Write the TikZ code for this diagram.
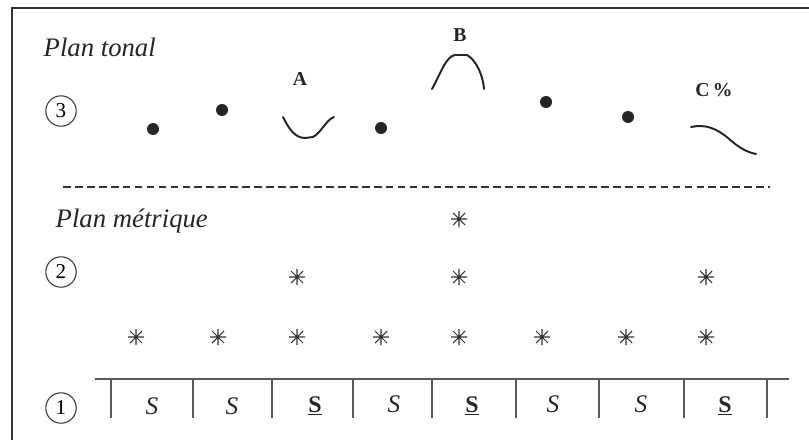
\documentclass[tikz,border=0pt]{standalone}
\usepackage{fontspec}
\setmainfont{Liberation Serif}

\begin{document}
\begin{tikzpicture}[x=0.025cm,y=-0.025cm,line width=1pt,
  plan/.style={anchor=west,inner sep=0pt,font=\fontsize{19}{22}\selectfont\itshape,text=black!85},
  level/.style={circle,draw=black!75,line width=0.8pt,minimum size=0.76cm,inner sep=0pt,font=\fontsize{15}{17}\selectfont},
  tone/.style={circle,fill=black!85,minimum size=0.3cm,inner sep=0pt},
  accentlbl/.style={font=\fontsize{14}{16}\selectfont\bfseries,text=black!85},
  syl/.style={font=\fontsize{18}{20}\selectfont\itshape,text=black!85},
  stress/.style={font=\fontsize{17}{20}\selectfont\bfseries,text=black!85},
  contour/.style={line width=1.4pt,black!85,line cap=round},
  beat/.pic={\draw[line width=0.75pt,black!80] (-8,0)--(8,0) (0,-8)--(0,8) (-6,-6)--(6,6) (-6,6)--(6,-6);}]
  \useasboundingbox (0,0) rectangle (809,440);
  % cadre
  \draw[line width=1.6pt,black!80] (12,440)--(12,8)--(809,8);
  % ============ plan tonal ============
  \node[plan] (tonal) at (43,47) {Plan tonal};
  \node[level] (n3) at (61,111) {3};
  \node[tone] (t1) at (153,129) {};
  \node[tone] (t2) at (222,110) {};
  \node[tone] (t4) at (381,128) {};
  \node[tone] (t6) at (546,102) {};
  \node[tone] (t7) at (628,117) {};
  % accents
  \node[accentlbl] (la) at (300,79) {A};
  \draw[contour] (283,117) .. controls (289,129) and (295,138) .. (305,138)
    -- (313,137) .. controls (321,133) and (326,120) .. (334,117);
  \node[accentlbl] (lb) at (460,35) {B};
  \draw[contour] (432,89) .. controls (440,75) and (446,56) .. (455,55)
    -- (467,55) .. controls (476,60) and (483,75) .. (484,89);
  \node[accentlbl] (lc) at (714,90) {C\,\%};
  \draw[contour] (691,127) .. controls (705,124) and (716,128) .. (728,138)
    .. controls (738,147) and (746,152) .. (756,154);
  % separation
  \draw[line width=1.5pt,black!80,dash pattern=on 5.5pt off 3pt] (63,187)--(770,187);
  % ============ plan metrique ============
  \node[plan] (metrique) at (55,221) {Plan métrique};
  \node[level] (n2) at (61,272) {2};
  \foreach \x in {136,218,297,381,459,542,626,706}
    \pic at (\x,337) {beat};
  \foreach \x in {297,459,706}
    \pic at (\x,277) {beat};
  \pic at (459,219) {beat};
  % ============ syllabes ============
  \node[level] (n1) at (61,408) {1};
  \draw[line width=1pt,black!65] (95,379)--(789,379);
  \foreach \x in {111,193,272,353,432,516,599,684,767}
    \draw[line width=1pt,black!65] (\x,379)--(\x,418);
  \node[syl] (s1) at (152,406) {S};
  \node[syl] (s2) at (232,406) {S};
  \node[stress] (s3) at (315,406) {\underline{S}};
  \node[syl] (s4) at (394,404) {S};
  \node[stress] (s5) at (472,406) {\underline{S}};
  \node[syl] (s6) at (553,404) {S};
  \node[syl] (s7) at (641,404) {S};
  \node[stress] (s8) at (725,406) {\underline{S}};
\end{tikzpicture}
\end{document}
